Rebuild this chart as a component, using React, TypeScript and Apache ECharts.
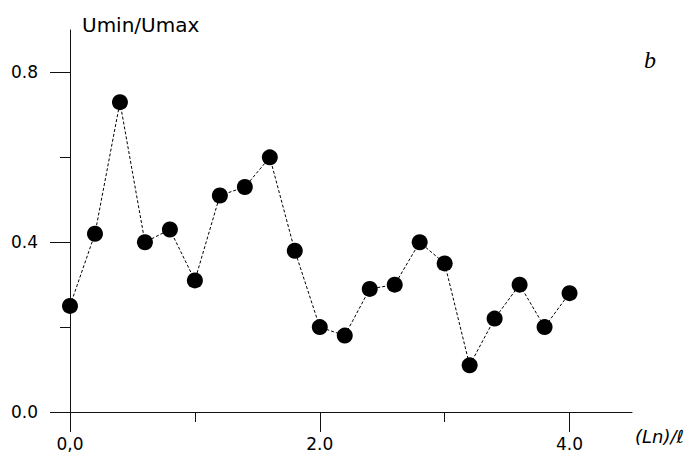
import React, { useEffect, useRef } from "react";
import * as echarts from "echarts";

const xValues = [0, 0.2, 0.4, 0.6, 0.8, 1.0, 1.2, 1.4, 1.6, 1.8, 2.0, 2.2, 2.4, 2.6, 2.8, 3.0, 3.2, 3.4, 3.6, 3.8, 4.0];
const yValues = [0.25, 0.42, 0.73, 0.40, 0.43, 0.31, 0.51, 0.53, 0.60, 0.38, 0.20, 0.18, 0.29, 0.30, 0.40, 0.35, 0.11, 0.22, 0.30, 0.20, 0.28];

const xMajorTicks = [0, 2, 4];
const xMajorLabels = ["0,0", "2.0", "4.0"];
const xMinorTicks = [1, 3];
const yMajorTicks = [0, 0.4, 0.8];
const yMajorLabels = ["0.0", "0.4", "0.8"];
const yMinorTicks = [0.2, 0.6];

const yTitle = "Umin/Umax";
const xTitle = "(Ln)/ℓ";
const panelLabel = "b";

export default function App() {
  const ref = useRef<HTMLDivElement>(null);
  useEffect(() => {
    if (!ref.current) return;
    const chart = echarts.init(ref.current, null, { renderer: "svg" });
    const font = "DejaVu Sans";
    const labelFor = (v: number, ticks: number[], labels: string[]) => {
      const i = ticks.findIndex((t) => Math.abs(t - v) < 1e-6);
      return i >= 0 ? labels[i] : "";
    };
    const option: any = {
      animation: false,
      backgroundColor: "#ffffff",
      grid: { left: 70, right: 65, top: 30, bottom: 55, containLabel: false },
      xAxis: [
        {
          type: "value",
          position: "bottom",
          min: 0,
          max: 4.5,
          interval: 1,
          axisLine: { show: true, onZero: false, lineStyle: { color: "#111", width: 1 } },
          axisTick: { show: true, customValues: xMajorTicks, length: 20, inside: false, lineStyle: { color: "#111", width: 1 } },
          axisLabel: {
            show: true,
            customValues: xMajorTicks,
            formatter: (v: number) => labelFor(v, xMajorTicks, xMajorLabels),
            fontFamily: font,
            fontSize: 17,
            color: "#000",
            margin: 23,
          },
          splitLine: { show: false },
        },
        {
          type: "value",
          position: "bottom",
          min: 0,
          max: 4.5,
          interval: 1,
          axisLine: { show: false, onZero: false },
          axisTick: { show: true, customValues: xMinorTicks, length: 10, lineStyle: { color: "#111", width: 1 } },
          axisLabel: { show: false },
          splitLine: { show: false },
        },
      ],
      yAxis: [
        {
          type: "value",
          position: "left",
          min: 0,
          max: 0.9,
          interval: 0.1,
          axisLine: { show: true, onZero: false, lineStyle: { color: "#111", width: 1 } },
          axisTick: { show: true, customValues: yMajorTicks, length: 20, lineStyle: { color: "#111", width: 1 } },
          axisLabel: {
            show: true,
            customValues: yMajorTicks,
            formatter: (v: number) => labelFor(v, yMajorTicks, yMajorLabels),
            fontFamily: font,
            fontSize: 17,
            color: "#000",
            margin: 32,
          },
          splitLine: { show: false },
        },
        {
          type: "value",
          position: "left",
          min: 0,
          max: 0.9,
          interval: 0.1,
          axisLine: { show: false, onZero: false },
          axisTick: { show: true, customValues: yMinorTicks, length: 10, lineStyle: { color: "#111", width: 1 } },
          axisLabel: { show: false },
          splitLine: { show: false },
        },
      ],
      series: [
        {
          type: "line",
          xAxisIndex: 0,
          yAxisIndex: 0,
          data: xValues.map((x, i) => [x, yValues[i]]),
          symbol: "circle",
          symbolSize: 16,
          showAllSymbol: true,
          itemStyle: { color: "#000" },
          lineStyle: { color: "#000", width: 1, type: [3, 2] },
        },
      ],
      graphic: [
        {
          type: "text",
          x: 82,
          y: 25,
          style: { text: yTitle, fontFamily: font, fontSize: 20, fill: "#000", textAlign: "left", textVerticalAlign: "middle" },
        },
        {
          type: "text",
          x: 635,
          y: 436,
          style: { text: xTitle, fontFamily: font, fontStyle: "italic", fontSize: 18, fill: "#000", textAlign: "left", textVerticalAlign: "middle" },
        },
        {
          type: "text",
          x: 644,
          y: 60,
          style: { text: panelLabel, fontFamily: "Liberation Serif", fontStyle: "italic", fontSize: 24, fill: "#000", textAlign: "left", textVerticalAlign: "middle" },
        },
      ],
    };
    chart.setOption(option);
    return () => chart.dispose();
  }, []);
  return (
    <div
      ref={ref}
      style={{ position: "fixed", left: 0, top: 0, width: 697, height: 467, background: "#fff" }}
    />
  );
}
